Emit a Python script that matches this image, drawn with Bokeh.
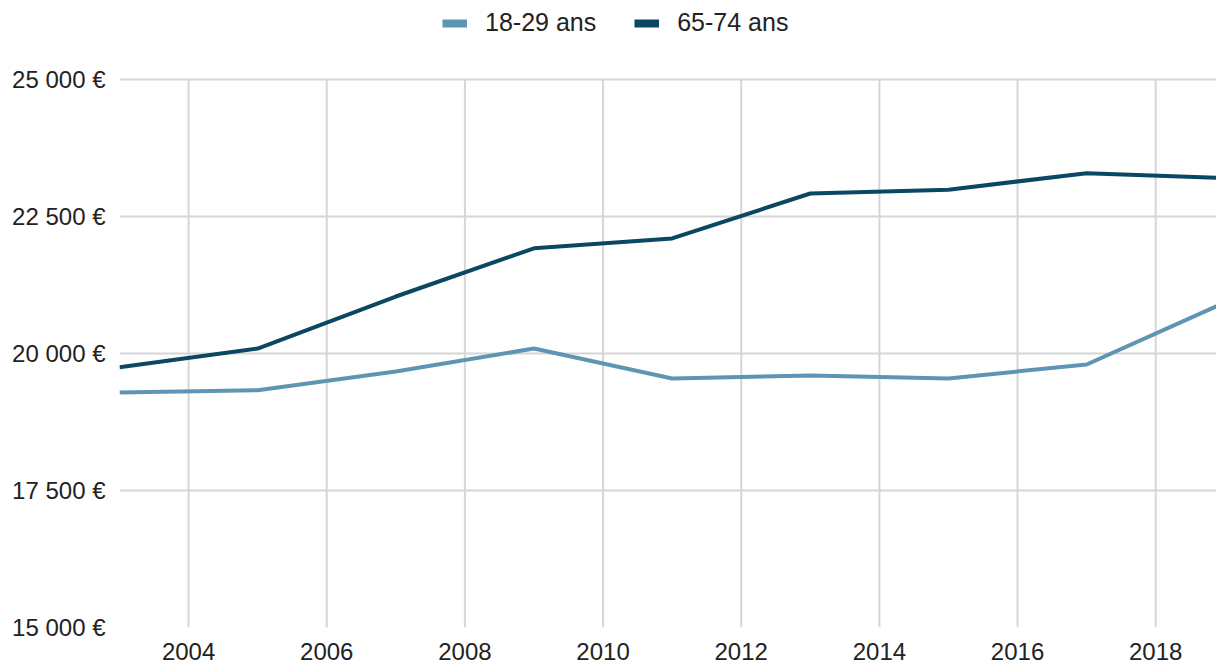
from bokeh.plotting import figure
from bokeh.models import Range1d, FixedTicker, Legend, LegendItem, ColumnDataSource
from bokeh.embed import file_html
from bokeh.resources import INLINE

years = [2003, 2005, 2007, 2009, 2011, 2013, 2015, 2017, 2019]
young = [19290, 19330, 19670, 20090, 19545, 19600, 19545, 19800, 20930]
old = [19750, 20090, 21040, 21920, 22100, 22920, 22990, 23290, 23200]
series_names = ["18-29 ans", "65-74 ans"]
colors = ["#5e95b3", "#0a4762"]
y_ticks = [15000, 17500, 20000, 22500, 25000]
x_ticks = [2004, 2006, 2008, 2010, 2012, 2014, 2016, 2018]

def fmt_eur(v):
    return "{:,}".format(v).replace(",", " ") + " €"

y_lo, y_hi = y_ticks[0], y_ticks[-1]
grid_h = 548          # pixel height of the gridded area
top_space = 79        # room above it for the legend
frame_h = grid_h + top_space
y_top = y_lo + (y_hi - y_lo) * frame_h / grid_h

p = figure(frame_width=1097, frame_height=frame_h, output_backend="svg", toolbar_location=None,
           x_range=Range1d(2003, 2018.88), y_range=Range1d(y_lo, y_top),
           min_border_left=119, min_border_right=0, min_border_top=0,
           min_border_bottom=40)
p.outline_line_color = None
p.background_fill_color = "white"
p.border_fill_color = "white"

grid_color = "#d6d6d6"
# vertical grid lines limited to the value span
p.xgrid.visible = False
p.ygrid.grid_line_color = grid_color
p.ygrid.grid_line_width = 2
vsrc = ColumnDataSource(dict(x=x_ticks, y0=[y_lo] * len(x_ticks), y1=[y_hi] * len(x_ticks)))
p.segment(x0="x", y0="y0", x1="x", y1="y1", source=vsrc, line_color=grid_color, line_width=2)

src = ColumnDataSource(dict(x=years, young=young, old=old))
r1 = p.line("x", "young", source=src, line_color=colors[0], line_width=4)
r2 = p.line("x", "old", source=src, line_color=colors[1], line_width=4)

# legend proxies (no visible data)
nan = float("nan")
l1 = p.line(x=[nan], y=[nan], line_color=colors[0], line_width=8)
l2 = p.line(x=[nan], y=[nan], line_color=colors[1], line_width=8)

legend = Legend(items=[LegendItem(label=series_names[0], renderers=[l1]),
                       LegendItem(label=series_names[1], renderers=[l2])],
                orientation="horizontal", location=(323, 590),
                label_text_font="Liberation Sans", label_text_font_size="25px",
                label_text_color="#222222", glyph_width=25, glyph_height=20,
                spacing=38, label_standoff=18, border_line_color=None,
                background_fill_alpha=0, margin=0, padding=4)
p.add_layout(legend, "center")

for ax in (p.xaxis[0], p.yaxis[0]):
    ax.axis_line_color = None
    ax.major_tick_line_color = None
    ax.minor_tick_line_color = None
    ax.major_label_text_font = "Liberation Sans"
    ax.major_label_text_font_size = "24px"
    ax.major_label_text_color = "#222222"

p.yaxis.ticker = FixedTicker(ticks=y_ticks)
p.yaxis.major_label_overrides = {t: fmt_eur(t) for t in y_ticks}
p.yaxis.major_label_standoff = 8
p.xaxis.ticker = FixedTicker(ticks=x_ticks)
p.xaxis.major_label_standoff = 9

open("out.html", "w").write(file_html(p, INLINE))
